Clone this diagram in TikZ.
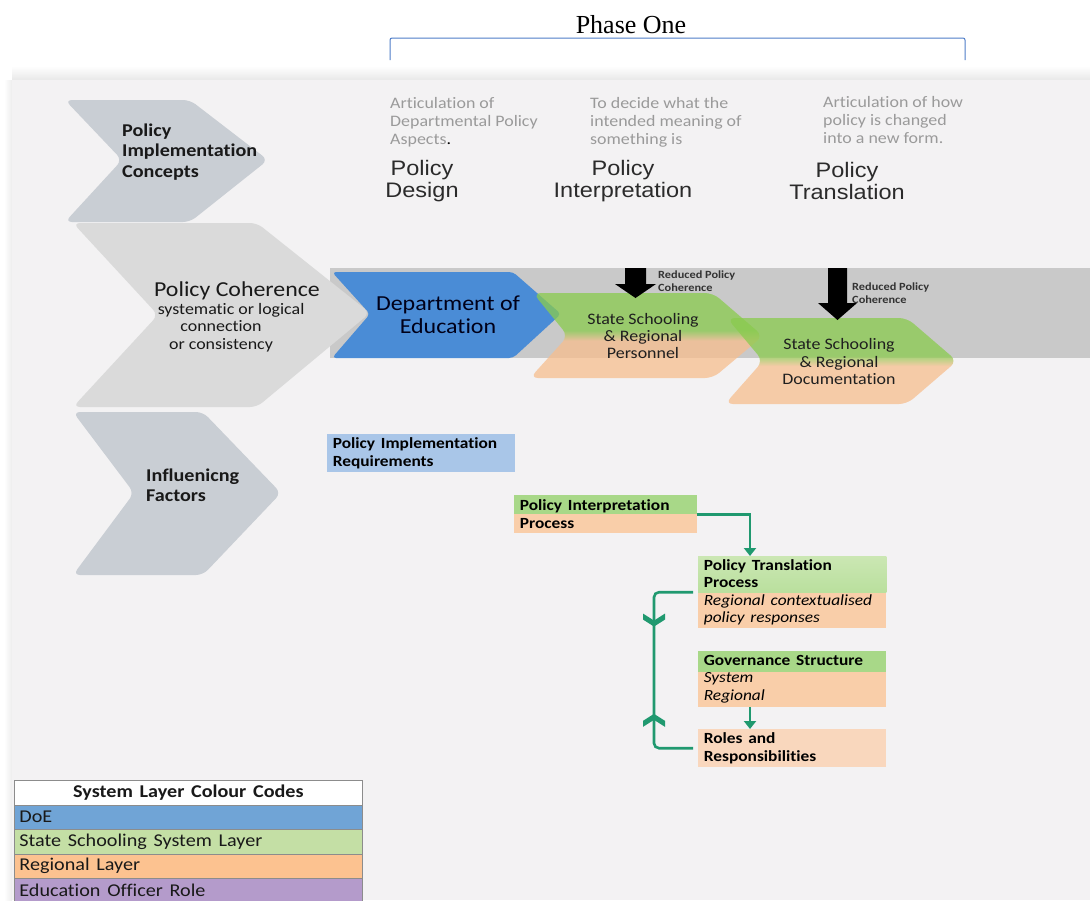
\documentclass[tikz,border=0pt]{standalone}
\usepackage{fontspec}
\setmainfont{Carlito}[Ligatures=NoCommon]
\newfontfamily\headfont{Liberation Sans}
\newfontfamily\phasefont{Liberation Serif}
\usetikzlibrary{arrows.meta,calc,decorations.markings}

\definecolor{panelbg}{HTML}{F3F2F3}
\definecolor{chevgray}{HTML}{C9CED4}
\definecolor{chevlight}{HTML}{DADADA}
\definecolor{bandgray}{HTML}{C9C9C9}
\definecolor{doeblue}{HTML}{4A8CD6}
\definecolor{grn}{HTML}{8ACB4E}
\definecolor{orng}{HTML}{F7BE8E}
\definecolor{reqblue}{HTML}{A9C6E8}
\definecolor{boxgreen}{HTML}{A8D888}
\definecolor{boxgreenlt}{HTML}{CBE7B3}
\definecolor{boxorange}{HTML}{F9CEA9}
\definecolor{roleorange}{HTML}{F9D7BD}
\definecolor{flowteal}{HTML}{20996F}
\definecolor{bracketblue}{HTML}{4F7DC9}
\definecolor{desctext}{HTML}{9A9A9A}
\definecolor{headtext}{HTML}{2B2B2B}
\definecolor{legdoe}{HTML}{70A4D6}
\definecolor{leggreen}{HTML}{C4DFA5}
\definecolor{legorange}{HTML}{FCC290}
\definecolor{legpurple}{HTML}{B49BCB}
\definecolor{legrule}{HTML}{8C8C8C}

% green upper half blending into orange lower half
\pgfdeclareverticalshading{greenorange}{100bp}{color(0bp)=(orng); color(25bp)=(orng); color(47bp)=(orng); color(53bp)=(grn); color(75bp)=(grn); color(100bp)=(grn)}

\begin{document}
\begin{tikzpicture}[x=1pt,y=-1pt,
  lbl/.style={inner sep=0pt, xscale=1.12},
  fs/.style 2 args={font=\fontsize{#1}{#2}\selectfont},
  fsb/.style 2 args={font=\fontsize{#1}{#2}\selectfont\bfseries},
  desc/.style={lbl, fs={16}{18}, text=desctext, align=left, anchor=west},
  stage/.style={lbl, font=\headfont\fontsize{21}{22.5}\selectfont, text=headtext, align=center},
  chevtext/.style={lbl, fsb={18}{20.5}, text=black!90, align=left, anchor=west},
  layertext/.style={lbl, fs={16}{17}, text=black!88, align=center},
  reduced/.style={lbl, fsb={11}{13}, text=black!80, align=left, anchor=west},
  flowbox/.style={lbl, fsb={15.5}{17.5}, text=black, align=left, anchor=north west,
    inner xsep=5pt, inner ysep=0pt, minimum width=167.9pt, text width=157.9pt},
  greentop/.style={path picture={\fill[boxgreen] (path picture bounding box.north west)
    rectangle ([yshift=-#1]path picture bounding box.north east);}},
  legcell/.style={lbl, draw=legrule, line width=0.7pt, anchor=north west,
    minimum width=310.7pt, text width=301.7pt, inner xsep=4.5pt, minimum height=24.5pt,
    fs={18}{20}, align=left, text=black!90},
  flow/.style={draw=flowteal, line width=2.6pt, -{Triangle[length=8pt,width=12pt]}},
  loopline/.style={draw=flowteal, line width=2.6pt, rounded corners=5pt,
    postaction={decorate}, decoration={markings,
      % chevron pointing along the line
      mark=at position 0.31 with {\fill[flowteal, sharp corners] (0,0) -- (-7,11) -- (-13,11) -- (-6,0) -- (-13,-11) -- (-7,-11) -- cycle;},
      % chevron pointing back against the line
      mark=at position 0.69 with {\fill[flowteal, sharp corners] (0,0) -- (7,11) -- (13,11) -- (6,0) -- (13,-11) -- (7,-11) -- cycle;}}},
  chevron/.style={rounded corners=7pt},
  layer/.style={shading=greenorange, fill opacity=0.75, rounded corners=8pt},
  block/.style={fill=black}
]
\useasboundingbox (0,0) rectangle (1090,900);
\fill[white] (0,0) rectangle (1090,900);

% phase heading and bracket
\node[font=\phasefont\fontsize{26}{28}\selectfont, inner sep=0pt] (phase) at (631,25) {Phase One};
\draw[bracketblue, line width=1pt, rounded corners=2pt] (390,60) -- (390,38) -- (965,38) -- (965,60);

% background panel with soft top shadow
\shade[top color=white, bottom color=black!9] (12,66) rectangle (1090,80);
\shade[left color=white, right color=black!7] (4,80) rectangle (12,900);
\fill[panelbg] (12,80) rectangle (1090,900);

% left-hand concept chevrons
\fill[chevgray, chevron] (65,100) -- (190,100) -- (268,160) -- (190,222) -- (65,222) -- (122,160) -- cycle;
\fill[chevgray, chevron] (73,412) -- (203,412) -- (281,493) -- (203,575) -- (73,575) -- (134,493) -- cycle;

% coherence band
\fill[bandgray] (330,268) rectangle (1090,358);
\fill[chevlight, chevron] (73,223) -- (257,223) -- (370,313) -- (257,407) -- (73,407) -- (158,315) -- cycle;
\fill[doeblue, rounded corners=4pt] (332,272) -- (513,272) -- (561,314) -- (513,358) -- (332,358) -- (370,314) -- cycle;
\shade[layer] (533,293) -- (713,293) -- (763,336) -- (713,378) -- (530,378) -- (568,336) -- cycle;
\shade[layer] (727,318) -- (907,318) -- (957,361) -- (907,404) -- (725,404) -- (763,361) -- cycle;

% reduced-coherence block arrows
\fill[block] (625,268) -- (646,268) -- (646,284) -- (656,284) -- (635.5,298) -- (615,284) -- (625,284) -- cycle;
\fill[block] (828,268) -- (847,268) -- (847,303) -- (857,303) -- (837.5,320) -- (818,303) -- (828,303) -- cycle;

% stage descriptions
\node[desc] (descDesign) at (390,122) {Articulation of\\Departmental Policy\\Aspects{\color{black}.}};
\node[desc] (descInterp) at (590,122) {To decide what the\\intended meaning of\\something is};
\node[desc] (descTrans) at (823,120.5) {Articulation of how\\policy is changed\\into a new form.};
\node[stage] (stDesign) at (422,181) {Policy\\Design};
\node[stage] (stInterp) at (623,181) {Policy\\Interpretation};
\node[stage] (stTrans) at (847,181) {Policy\\Translation};

% chevron labels
\node[chevtext] (cConcepts) at (122,152) {Policy\\Implementation\\Concepts};
\node[lbl, fs={21.3}{24}, text=black!90] (cCoherence) at (237,291) {Policy Coherence};
\node[lbl, fs={16}{17.5}, text=black!90, align=center] (cCohSub) at (221,327.5) {\hspace*{18pt}systematic or logical\\connection\\or consistency};
\node[chevtext] (cFactors) at (146,485) {Influenicng\\Factors};

\node[lbl, fs={21.4}{23}, text=black!90!blue, align=center] (doe) at (448,314.5) {Department of\\Education};
\node[layertext] (personnel) at (643,336) {State Schooling\\\& Regional\\Personnel};
\node[layertext, fs={16}{17.5}] (documentation) at (839,361.5) {State Schooling\\\& Regional\\Documentation};
\node[reduced] (red1) at (658,281.5) {Reduced Policy\\Coherence};
\node[reduced] (red2) at (852,293.5) {Reduced Policy\\Coherence};

% process boxes
\node[flowbox, fill=reqblue, minimum height=38pt] (req) at (327,434) {Policy Implementation\\Requirements};
\node[flowbox, fill=boxorange, greentop=19pt, minimum height=38pt, minimum width=163.4pt, text width=153.4pt] (interp) at (514,495) {Policy Interpretation\\Process};
\node[flowbox, fill=boxorange, minimum height=72pt,
  path picture={\shade[top color=boxgreenlt, bottom color=boxgreen] (path picture bounding box.north west)
    rectangle ([yshift=-36pt]path picture bounding box.north east);}] (trans) at (698,556)
  {Policy Translation\\Process\\\mdseries\itshape Regional contextualised\\\mdseries\itshape policy responses};
\node[flowbox, fill=boxorange, greentop=21pt, minimum height=56pt] (gov) at (698,651)
  {Governance Structure\\\mdseries\itshape System\\\mdseries\itshape Regional};
\node[flowbox, fill=roleorange, minimum height=38pt] (roles) at (698,729) {Roles and\\Responsibilities};

% process connectors
\draw[flow] (interp.east) -| ([xshift=52pt]trans.north west);
\draw[flow] ([xshift=52pt]gov.south west) -- ([xshift=52pt]roles.north west);
\coordinate (loopA) at ([xshift=-5pt]trans.west);
\coordinate (loopB) at ([xshift=-5pt]roles.west);
\draw[loopline] (loopA) -- ++(-39,0) |- (loopB);

% colour-code legend
\node[legcell, fill=white, font=\fontsize{18}{20}\selectfont\bfseries, align=center] (legHead) at (14,780) {System Layer Colour Codes};
\node[legcell, fill=legdoe] (legDoE) at (14,804.5) {DoE};
\node[legcell, fill=leggreen] (legState) at (14,829) {State Schooling System Layer};
\node[legcell, fill=legorange] (legRegion) at (14,853.5) {Regional Layer};
\node[legcell, fill=legpurple] (legOfficer) at (14,878) {Education Officer Role};
\end{tikzpicture}
\end{document}
